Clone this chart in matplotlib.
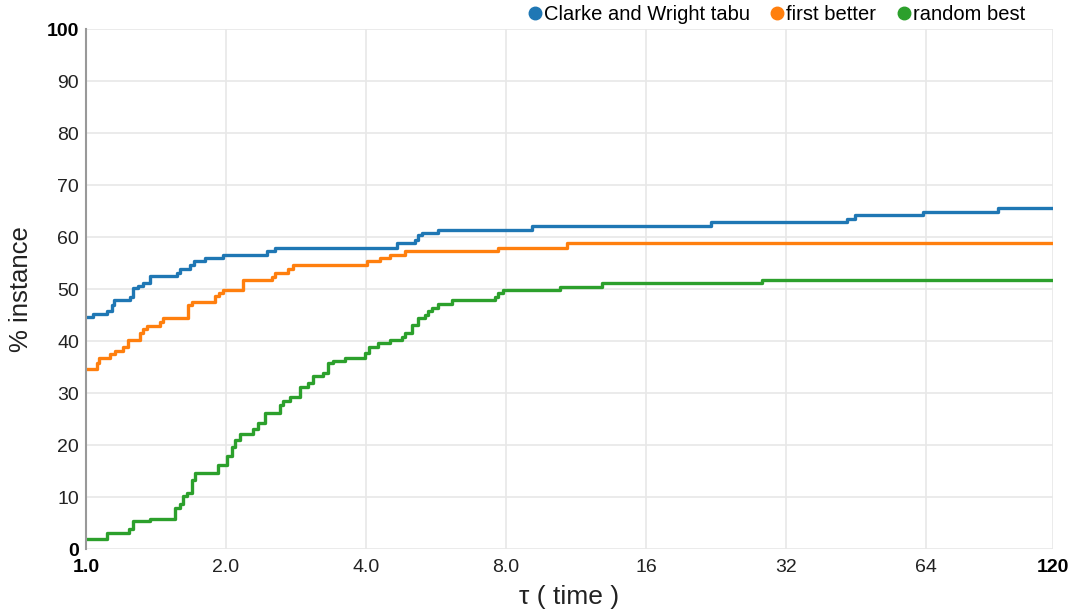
import matplotlib.pyplot as plt

plt.rcParams["font.family"] = ["Liberation Sans", "DejaVu Sans"]

# performance profile steps (tau, % instance)
cw_tau = [1.0, 1.037, 1.108, 1.137, 1.15, 1.243, 1.264, 1.294, 1.328, 1.373,
          1.567, 1.593, 1.673, 1.707, 1.802, 1.974, 2.446, 2.549, 4.657, 5.098,
          5.174, 5.27, 5.72, 9.09, 22.04, 43.2, 45.0, 63.2, 91.5, 120]
cw_pct = [44.7, 45.2, 45.8, 46.9, 47.8, 48.5, 50.1, 50.6, 51.2, 52.5,
          53.1, 53.8, 54.6, 55.4, 55.9, 56.5, 57.4, 57.9, 58.8, 59.5,
          60.4, 60.8, 61.4, 62.1, 62.8, 63.5, 64.2, 64.9, 65.5, 65.5]

fb_tau = [1.0, 1.054, 1.068, 1.126, 1.154, 1.203, 1.233, 1.307, 1.328, 1.351,
          1.443, 1.466, 1.66, 1.69, 1.894, 1.93, 1.974, 2.179, 2.508, 2.549,
          2.723, 2.791, 4.01, 4.29, 4.5, 4.85, 7.7, 10.8, 120]
fb_pct = [34.7, 35.8, 36.8, 37.5, 38.1, 38.9, 40.2, 41.5, 42.3, 42.9,
          43.7, 44.4, 46.9, 47.5, 48.7, 49.2, 49.9, 51.7, 52.4, 53.1,
          53.8, 54.6, 55.3, 55.9, 56.5, 57.3, 57.9, 58.8, 58.8]

rb_tau = [1.0, 1.108, 1.239, 1.264, 1.373, 1.554, 1.593, 1.619, 1.651, 1.688,
          1.716, 1.925, 2.007, 2.057, 2.091, 2.144, 2.29, 2.347, 2.426, 2.613,
          2.656, 2.746, 2.885, 3.007, 3.082, 3.238, 3.32, 3.40, 3.6, 3.98,
          4.05, 4.25, 4.5, 4.77, 4.85, 5.02, 5.18, 5.36, 5.45, 5.54,
          5.72, 6.11, 7.58, 7.7, 7.89, 10.45, 12.85, 28.4, 120]
rb_pct = [1.9, 3.1, 3.8, 5.3, 5.8, 7.8, 8.7, 10.1, 10.8, 13.3,
          14.7, 16.2, 17.8, 19.7, 21.0, 22.2, 23.1, 24.3, 26.2, 27.7,
          28.5, 29.2, 31.1, 32.0, 33.3, 33.9, 35.7, 36.2, 36.8, 37.6,
          38.9, 39.6, 40.2, 40.8, 41.6, 43.1, 44.4, 45.0, 45.8, 46.4,
          47.1, 47.8, 48.5, 49.2, 49.8, 50.4, 51.1, 51.8, 51.8]

series = [
    ("Clarke and Wright tabu", cw_tau, cw_pct, "#1f77b4"),
    ("first better", fb_tau, fb_pct, "#ff7f0e"),
    ("random best", rb_tau, rb_pct, "#2ca02c"),
]

x_ticks = [1, 2, 4, 8, 16, 32, 64, 120]
x_labels = ["1.0", "2.0", "4.0", "8.0", "16", "32", "64", "120"]
y_ticks = list(range(0, 101, 10))

fig = plt.figure(figsize=(10.73, 6.09), dpi=100)
ax = fig.add_axes([86 / 1073, 60 / 609, 967 / 1073, 520 / 609])

for name, t, p, c in series:
    ax.plot(t, p, drawstyle="steps-post", color=c, lw=2.4, label=name)

ax.set_xscale("log", base=2)
ax.set_xlim(1, 120)
ax.set_ylim(0, 100)
ax.set_xticks(x_ticks)
ax.set_xticklabels(x_labels)
ax.minorticks_off()
ax.set_yticks(y_ticks)
ax.set_yticklabels([str(v) for v in y_ticks])
ax.tick_params(length=0, labelsize=14, colors="#222222")
ax.tick_params(axis="x", pad=7)
ax.tick_params(axis="y", pad=5)
for lbl in (ax.get_xticklabels()[0], ax.get_xticklabels()[-1],
            ax.get_yticklabels()[0], ax.get_yticklabels()[-1]):
    lbl.set_fontweight("bold")
    lbl.set_color("black")

ax.grid(True, color="#e8e8e8", lw=1.2)
ax.set_axisbelow(True)
for s in ["top", "right", "bottom"]:
    ax.spines[s].set_visible(False)
ax.spines["left"].set_color("#999999")
ax.spines["left"].set_linewidth(1.5)

ax.set_xlabel("τ ( time )", fontsize=19, labelpad=7, color="#222222")
ax.set_ylabel("% instance", fontsize=18.5, labelpad=10, color="#222222")

handles = [plt.Line2D([], [], marker="o", ls="", color=c, markersize=9)
           for _, _, _, c in series]
fig.legend(handles, [s[0] for s in series], loc="upper right",
           bbox_to_anchor=(1025 / 1073, 1 - 5 / 609), ncol=3, frameon=False,
           fontsize=14.5, handlelength=0.6, handletextpad=0.15,
           columnspacing=1.05, borderpad=0.0, borderaxespad=0.0)

fig.savefig("out.png", dpi=100)
